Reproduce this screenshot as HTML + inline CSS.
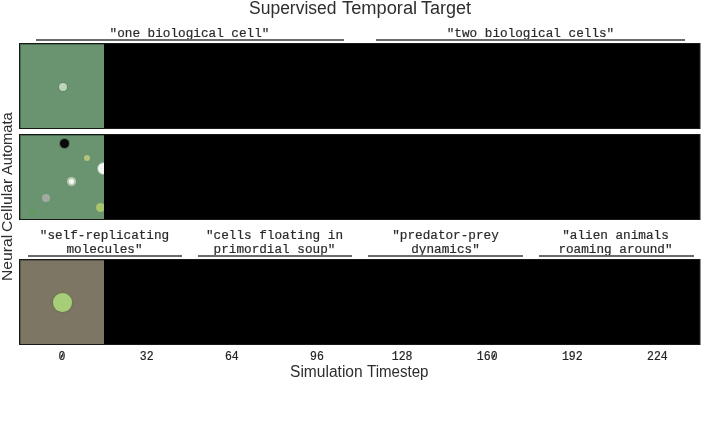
<!DOCTYPE html>
<html><head><meta charset="utf-8">
<style>
html,body{margin:0;padding:0;background:#fff;}
body{width:720px;height:432px;position:relative;overflow:hidden;font-family:"Liberation Sans",sans-serif;}
.t{position:absolute;white-space:pre;line-height:1;}
.sans{font-family:"Liberation Sans",sans-serif;color:#2e2e2e;}
.mono{font-family:"Liberation Mono",monospace;color:#2a2a2a;font-size:12.7px;text-align:center;transform:scaleY(1.06);-webkit-text-stroke:0.2px #2a2a2a;}
.ul{position:absolute;height:2px;background:#6b6b6b;}
.panel{position:absolute;left:19px;width:681px;height:86px;background:#000;box-shadow:1px 0 0 rgba(0,0,0,0.45);}
.frame{position:absolute;left:0;top:0;width:85px;height:86px;}
.border{position:absolute;left:0;top:0;right:0;bottom:0;border:1px solid #161b17;box-sizing:border-box;box-shadow:inset 1px 1px 0 rgba(0,0,0,0.28);}
.dot{position:absolute;border-radius:50%;filter:blur(0.35px);}
.tick{position:absolute;top:350.7px;width:40px;margin-left:-20px;text-align:center;font-family:"Liberation Mono",monospace;font-size:11.5px;color:#222;line-height:1;transform:scaleY(1.08);-webkit-text-stroke:0.2px #222;}
.z{position:relative;display:inline-block;}
.z::after{content:"";position:absolute;left:50%;top:40%;width:1.1px;height:5.4px;background:#222;transform:translate(-50%,-50%) rotate(22deg);}
.w{transform-origin:0 0;}
</style></head><body>

<div class="t sans w" style="left:248.5px;top:-1.2px;font-size:18px;transform:scaleX(0.972);">Supervised</div>
<div class="t sans w" style="left:341.7px;top:-1.2px;font-size:18px;transform:scaleX(1.015);">Temporal</div>
<div class="t sans w" style="left:421px;top:-1.2px;font-size:18px;transform:scaleX(1.001);">Target</div>

<!-- row 1 prompts -->
<div class="t mono" style="left:19px;width:341px;top:28.3px;">"one biological cell"</div>
<div class="t mono" style="left:360px;width:341px;top:28.3px;">"two biological cells"</div>
<div class="ul" style="left:35.8px;width:308px;top:39px;"></div>
<div class="ul" style="left:376.3px;width:308.7px;top:39px;"></div>

<!-- panel 1 -->
<div class="panel" style="top:43px;">
  <div class="frame" style="background:#6a9470;">
    <div class="dot" style="left:39.7px;top:39.6px;width:8.6px;height:8.4px;background:#bdd3bb;box-shadow:0 0 0 1px rgba(60,100,70,0.25);"></div>
  </div>
  <div class="border"></div>
</div>

<!-- panel 2 -->
<div class="panel" style="top:134px;">
  <div class="frame" style="background:#6a9470;overflow:hidden;">
    <div class="dot" style="left:40.7px;top:4.7px;width:9.4px;height:9.4px;background:#0a0a0a;box-shadow:0 0 0 1px rgba(40,60,45,0.35);"></div>
    <div class="dot" style="left:65.3px;top:21.3px;width:6px;height:6px;background:#b4c27a;"></div>
    <div class="dot" style="left:78.6px;top:28.8px;width:11.4px;height:11.4px;background:#f4f6f0;box-shadow:0 0 0 1px rgba(200,215,200,0.5);"></div>
    <div class="dot" style="left:48.3px;top:43.3px;width:9px;height:9px;background:#b9c9b6;"></div>
    <div class="dot" style="left:50.3px;top:45.3px;width:5px;height:5px;background:#f6f8f2;"></div>
    <div class="dot" style="left:23.3px;top:60.1px;width:8px;height:8px;background:#a2aaa0;"></div>
    <div class="dot" style="left:77.2px;top:69.2px;width:9px;height:9px;background:#a9c46e;"></div>
    <div class="dot" style="left:10.5px;top:75.2px;width:5px;height:5px;background:#5f9a5a;border-radius:1px;"></div>
  </div>
  <div class="border"></div>
</div>

<!-- row 3 prompts -->
<div class="t mono" style="left:19px;width:171px;top:230.1px;line-height:12.75px;">"self-replicating
molecules"</div>
<div class="t mono" style="left:189px;width:171px;top:230.1px;line-height:12.75px;">"cells floating in
primordial soup"</div>
<div class="t mono" style="left:360px;width:171px;top:230.1px;line-height:12.75px;">"predator-prey
dynamics"</div>
<div class="t mono" style="left:530px;width:171px;top:230.1px;line-height:12.75px;">"alien animals
roaming around"</div>
<div class="ul" style="left:27.5px;width:154.5px;top:255px;"></div>
<div class="ul" style="left:197.8px;width:154.2px;top:255px;"></div>
<div class="ul" style="left:368.3px;width:155px;top:255px;"></div>
<div class="ul" style="left:538.9px;width:154.7px;top:255px;"></div>

<!-- panel 3 -->
<div class="panel" style="top:259px;">
  <div class="frame" style="background:#7d7664;">
    <div class="dot" style="left:34.2px;top:34px;width:18.6px;height:18.6px;background:#a8cd78;box-shadow:0 0 0 1.5px rgba(95,115,60,0.35);"></div>
  </div>
  <div class="border"></div>
</div>

<!-- ticks -->
<div class="tick" style="left:61.9px;"><span class="z">0</span></div>
<div class="tick" style="left:146.7px;">32</div>
<div class="tick" style="left:231.8px;">64</div>
<div class="tick" style="left:317px;">96</div>
<div class="tick" style="left:402.1px;">128</div>
<div class="tick" style="left:487.2px;">16<span class="z">0</span></div>
<div class="tick" style="left:572.3px;">192</div>
<div class="tick" style="left:657.4px;">224</div>

<div class="t sans w" style="left:290.1px;top:363.6px;font-size:16px;transform:scaleX(0.973);">Simulation</div>
<div class="t sans w" style="left:367.1px;top:363.6px;font-size:16px;transform:scaleX(0.943);">Timestep</div>

<div style="position:absolute;left:-1.3px;top:281.5px;width:0;height:0;transform:rotate(-90deg);transform-origin:0 0;">
<div class="t sans w" style="left:0.67px;top:0;font-size:15.25px;transform:scaleX(1.03);">Neural</div>
<div class="t sans w" style="left:50.27px;top:0;font-size:15.25px;transform:scaleX(1.03);">Cellular</div>
<div class="t sans w" style="left:107.3px;top:0;font-size:15.25px;transform:scaleX(0.96);">Automata</div>
</div>

</body></html>
